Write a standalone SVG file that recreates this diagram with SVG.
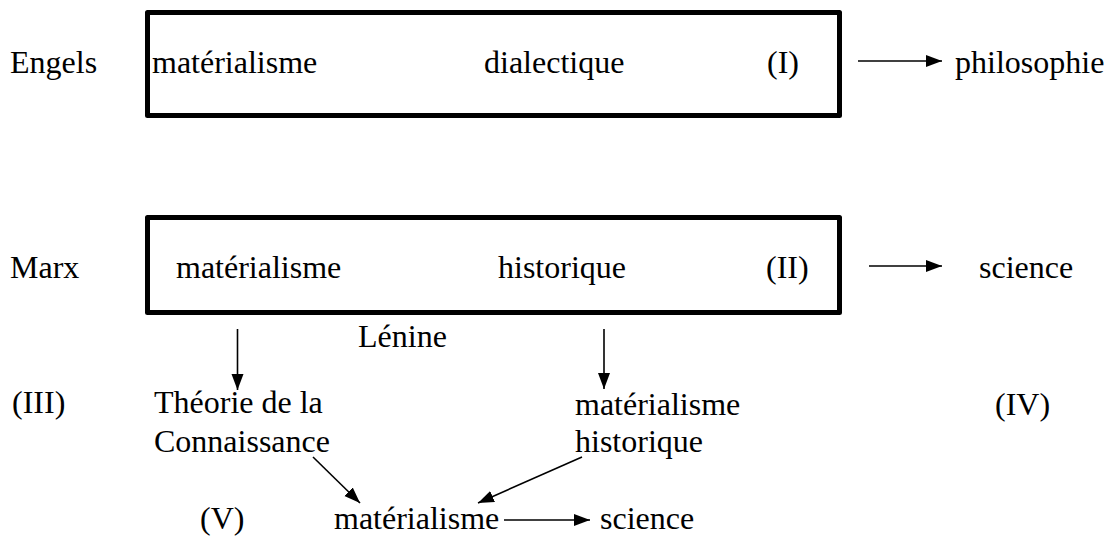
<svg xmlns="http://www.w3.org/2000/svg" width="1109" height="537" viewBox="0 0 1109 537">
<style>
text{font-family:'Liberation Serif','DejaVu Serif',serif;font-size:32px;fill:#000}
.box{fill:none;stroke:#000;stroke-width:5;stroke-linejoin:round}
.c{stroke:#000;stroke-width:1.6;fill:none}
</style>
<defs>
<marker id="ah" markerUnits="userSpaceOnUse" markerWidth="17" markerHeight="13" refX="16" refY="6" orient="auto">
<path d="M0,0 L16,6 L0,12 z" fill="#000"/>
</marker>
</defs>
<rect width="1109" height="537" fill="#fff"/>
<g id="engels"><text x="10" y="73">Engels</text></g>
<g id="box1">
<rect class="box" x="147.5" y="12.5" width="692" height="103"/>
<text x="152" y="73">matérialisme</text>
<text x="484" y="73">dialectique</text>
<text x="767" y="73">(I)</text>
</g>
<g id="philosophie"><text x="955" y="73">philosophie</text></g>
<g id="marx"><text x="10" y="278">Marx</text></g>
<g id="box2">
<rect class="box" x="147.5" y="217.5" width="692" height="95"/>
<text x="176" y="278">matérialisme</text>
<text x="498" y="278">historique</text>
<text x="766" y="278">(II)</text>
</g>
<g id="science1"><text x="979" y="278">science</text></g>
<g id="lenine"><text x="358" y="347">Lénine</text></g>
<g id="n3"><text x="12" y="413">(III)</text></g>
<g id="theorie"><text x="154" y="413">Théorie de la</text><text x="154" y="452">Connaissance</text></g>
<g id="mathist"><text x="575" y="415">matérialisme</text><text x="575" y="452">historique</text></g>
<g id="n4"><text x="995" y="415">(IV)</text></g>
<g id="n5"><text x="200" y="529">(V)</text></g>
<g id="mat"><text x="334" y="529">matérialisme</text></g>
<g id="science2"><text x="600" y="529">science</text></g>
<g id="connectors">
<line class="c" x1="858" y1="61" x2="942" y2="61" marker-end="url(#ah)"/>
<line class="c" x1="869" y1="266" x2="942" y2="266" marker-end="url(#ah)"/>
<line class="c" x1="237.5" y1="329" x2="237.5" y2="390" marker-end="url(#ah)"/>
<line class="c" x1="604" y1="329" x2="604" y2="389" marker-end="url(#ah)"/>
<line class="c" x1="313" y1="457" x2="360" y2="503" marker-end="url(#ah)"/>
<line class="c" x1="582" y1="457" x2="478" y2="503" marker-end="url(#ah)"/>
<line class="c" x1="504" y1="520" x2="590" y2="520" marker-end="url(#ah)"/>
</g>
</svg>
